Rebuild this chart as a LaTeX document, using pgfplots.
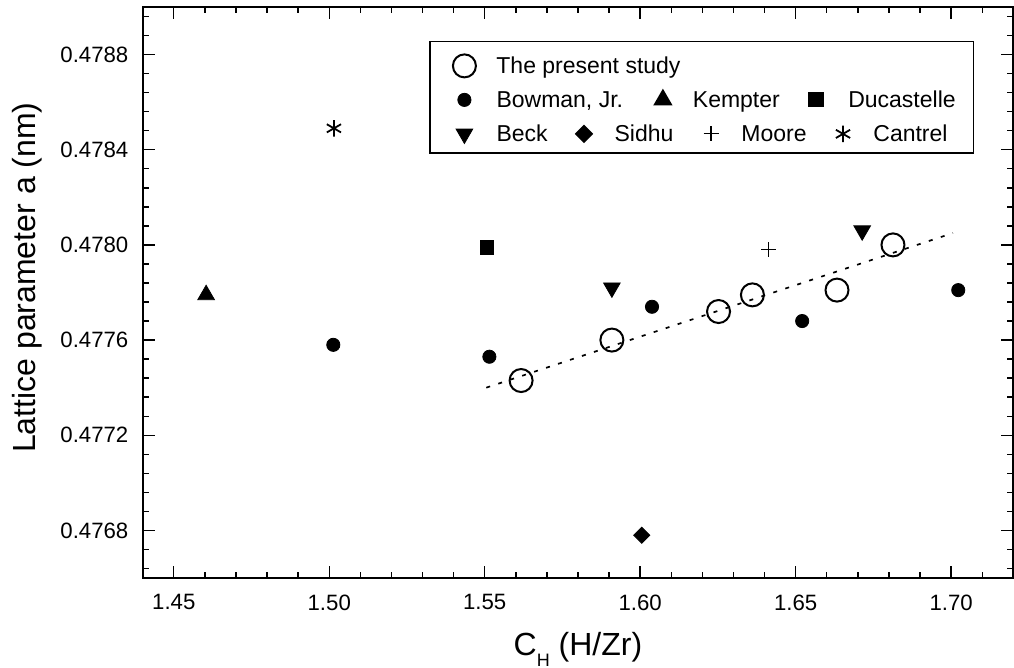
\documentclass[border=0pt]{standalone}
\usepackage{fontspec}
\setmainfont{Liberation Sans}
\usepackage{pgfplots}
\pgfplotsset{compat=1.18}

\newcommand{\lm}[3][]{\makebox[0pt]{\begin{pgfpicture}\pgfsetbaseline{-4pt}\pgfsetlinewidth{0.8pt}\pgfsetplotmarksize{#3}#1\pgfuseplotmark{#2}\end{pgfpicture}}}

\pgfplotsset{
  limg/.style={legend image code/.code={\path[draw=none,fill=none] (-15.3pt,-3pt) rectangle (14.5pt,3pt); \draw[##1] plot coordinates {(0pt,0pt)};}},
  limgtop/.style={legend image code/.code={\path[draw=none,fill=none] (-15.3pt,-3pt) rectangle (14.5pt,10.25pt); \draw[##1] plot coordinates {(0pt,0pt)};}}
}

\begin{document}
\begin{tikzpicture}
\begin{axis}[
  scale only axis, width=435.3pt, height=285.5pt,
  xmin=1.44, xmax=1.72, ymin=0.4766, ymax=0.4790,
  axis line style={line width=1pt},
  tick style={line width=0.7pt, black},
  major tick length=6pt, minor tick length=3pt,
  tick align=inside,
  xtick={1.45,1.5,1.55,1.6,1.65,1.7},
  minor xtick={1.44,1.46,1.47,1.48,1.49,1.51,1.52,1.53,1.54,1.56,1.57,1.58,1.59,1.61,1.62,1.63,1.64,1.66,1.67,1.68,1.69,1.71},
  ytick={0.4768,0.4772,0.4776,0.478,0.4784,0.4788},
  minor ytick={0.47664,0.47672,0.47688,0.47696,0.47704,0.47712,0.47728,0.47736,0.47744,0.47752,0.47768,0.47776,0.47784,0.47792,0.47808,0.47816,0.47824,0.47832,0.47848,0.47856,0.47864,0.47872,0.47888,0.47896},
  scaled x ticks=false, scaled y ticks=false,
  /pgf/number format/assume math mode=true,
  x tick label style={/pgf/number format/fixed, /pgf/number format/fixed zerofill, /pgf/number format/precision=2},
  y tick label style={/pgf/number format/fixed, /pgf/number format/fixed zerofill, /pgf/number format/precision=4},
  tick label style={font=\fontsize{11.1}{13}\selectfont},
  xticklabel style={yshift=-4.8pt},
  yticklabel style={xshift=-3.65pt},
  xlabel={C\raisebox{-5.5pt}{\fontsize{9}{9}\selectfont H} (H/Zr)},
  x label style={at={(axis description cs:0.5,-0.1349)}, anchor=base, font=\fontsize{16}{19}\selectfont},
  ylabel={Lattice parameter a (nm)},
  y label style={at={(axis description cs:-0.1226,0.526)}, anchor=base, font=\fontsize{16}{19}\selectfont},
  legend cell align=left,
  legend style={at={(0.329,0.941)}, anchor=north west, draw=black, line width=0.7pt,
    inner sep=2pt, row sep=2pt, font=\fontsize{11.5}{13}\selectfont,
    nodes={text height=10pt, text depth=2pt, inner sep=1.5pt}},
]
% linear fit
\addplot[forget plot, black, line width=0.85pt, dash pattern=on 2pt off 4.3pt] coordinates {(1.5505,0.47740) (1.7006,0.47805)};

% The present study
\addplot[only marks, mark=o, mark size=5.75pt, mark options={line width=1pt, black}, limgtop] coordinates {
(1.5617,0.47743) (1.5909,0.47760) (1.6252,0.47772) (1.6361,0.47779) (1.6633,0.47781) (1.6813,0.47800)};
\addlegendentry{The present study}

% Bowman, Jr.
\addplot[only marks, mark=*, mark size=3.3pt, mark options={line width=0.4pt, black, fill=black}, limg] coordinates {
(1.5013,0.47758) (1.5515,0.47753) (1.6038,0.47774) (1.6521,0.47768) (1.7023,0.47781)};
\addlegendentry{\makebox[235pt][l]{\makebox[83.2pt][l]{Bowman, Jr.}\lm{triangle*}{4.8pt}\hspace{15pt}\makebox[61.5pt][l]{Kempter}\lm{square*}{3.4pt}\hspace{16.2pt}Ducastelle}}

% Beck
\addplot[only marks, mark=triangle*, mark size=4.8pt, mark options={rotate=180, line width=0.4pt, black, fill=black}, limg] coordinates {
(1.5909,0.47782) (1.6714,0.47806)};
\addlegendentry{\makebox[43.7pt][l]{Beck}\lm[\pgftransformrotate{45}]{square*}{2.85pt}\hspace{15.3pt}\makebox[48.2pt][l]{Sidhu}\lm[\pgfsetlinewidth{0.6pt}]{+}{3.75pt}\hspace{15.2pt}\makebox[50.8pt][l]{Moore}\lm[\pgfsetlinewidth{0.9pt}]{asterisk}{4.1pt}\hspace{15.2pt}Cantrel}

% Kempter
\addplot[forget plot, only marks, mark=triangle*, mark size=4.8pt, mark options={line width=0.4pt, black, fill=black}] coordinates {(1.4604,0.47779)};
% Ducastelle
\addplot[forget plot, only marks, mark=square*, mark size=3.4pt, mark options={line width=0.4pt, black, fill=black}] coordinates {(1.5507,0.47799)};
% Sidhu
\addplot[forget plot, only marks, mark=square*, mark size=2.85pt, mark options={rotate=45, line width=0.4pt, black, fill=black}] coordinates {(1.6005,0.47678)};
% Moore
\addplot[forget plot, only marks, mark=+, mark size=3.75pt, mark options={line width=0.6pt, black}] coordinates {(1.6413,0.47798)};
% Cantrel
\addplot[forget plot, only marks, mark=asterisk, mark size=4.1pt, mark options={line width=0.9pt, black}] coordinates {(1.5015,0.47849)};
\end{axis}
\pgfresetboundingbox
\path[use as bounding box] ([shift={(-71.35pt,-45pt)}]current axis.south west) rectangle ([shift={(0.35pt,3.5pt)}]current axis.north east);
\end{tikzpicture}
\end{document}
